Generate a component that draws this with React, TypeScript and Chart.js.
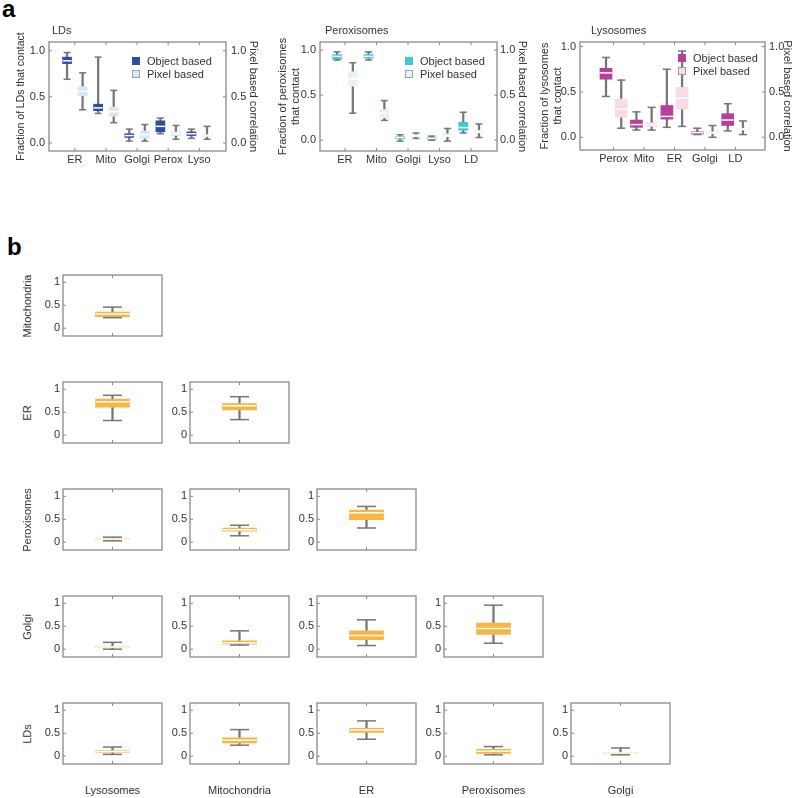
import React, { useEffect, useRef } from "react";
import { Chart, registerables } from "chart.js";

Chart.register(...registerables);

const FONT = '"Liberation Sans", Arial, Helvetica, sans-serif';
const TEXT = "#333333";
const WHISKER = "#777777";

// ---------- Panel a data: [min, q1, median, q3, max] ----------
const ldCategories = ["ER", "Mito", "Golgi", "Perox", "Lyso"];
const ldObject = [
  [0.69, 0.86, 0.89, 0.93, 0.98],
  [0.32, 0.35, 0.38, 0.42, 0.93],
  [0.02, 0.06, 0.08, 0.10, 0.15],
  [0.10, 0.12, 0.18, 0.24, 0.27],
  [0.05, 0.08, 0.10, 0.12, 0.15],
];
const ldPixel = [
  [0.36, 0.51, 0.56, 0.61, 0.76],
  [0.22, 0.29, 0.34, 0.39, 0.57],
  [0.02, 0.05, 0.09, 0.13, 0.20],
  [0.04, 0.08, 0.10, 0.12, 0.19],
  [0.04, 0.07, 0.08, 0.09, 0.18],
];

const peroxCategories = ["ER", "Mito", "Golgi", "Lyso", "LD"];
const peroxObject = [
  [0.89, 0.90, 0.93, 0.95, 0.98],
  [0.89, 0.91, 0.93, 0.95, 0.98],
  [-0.01, 0.015, 0.03, 0.04, 0.06],
  [0.0, 0.01, 0.02, 0.03, 0.045],
  [0.08, 0.11, 0.14, 0.20, 0.31],
];
const peroxPixel = [
  [0.30, 0.60, 0.68, 0.76, 0.86],
  [0.22, 0.25, 0.30, 0.34, 0.44],
  [0.02, 0.04, 0.05, 0.06, 0.08],
  [-0.01, 0.04, 0.05, 0.07, 0.13],
  [0.03, 0.08, 0.09, 0.11, 0.18],
];

const lysoCategories = ["Perox", "Mito", "ER", "Golgi", "LD"];
const lysoObject = [
  [0.45, 0.64, 0.71, 0.76, 0.88],
  [0.08, 0.11, 0.14, 0.19, 0.28],
  [0.11, 0.20, 0.23, 0.35, 0.75],
  [0.03, 0.035, 0.05, 0.06, 0.10],
  [0.07, 0.13, 0.19, 0.26, 0.37],
];
const lysoPixel = [
  [0.10, 0.22, 0.31, 0.42, 0.63],
  [0.08, 0.12, 0.14, 0.16, 0.33],
  [0.12, 0.31, 0.43, 0.55, 0.95],
  [0.0, 0.04, 0.05, 0.06, 0.13],
  [0.03, 0.08, 0.09, 0.10, 0.18],
];

const panelATicks = [0, 0.5, 1];

// ---------- Panel b data ----------
const rowLabels = ["Mitochondria", "ER", "Peroxisomes", "Golgi", "LDs"];
const colLabels = ["Lysosomes", "Mitochondria", "ER", "Peroxisomes", "Golgi"];
const rowMitochondria = [[0.23, 0.25, 0.31, 0.35, 0.46]];
const rowER = [
  [0.32, 0.61, 0.73, 0.79, 0.87],
  [0.34, 0.55, 0.64, 0.69, 0.84],
];
const rowPeroxisomes = [
  [0.03, 0.06, 0.07, 0.08, 0.11],
  [0.14, 0.24, 0.27, 0.31, 0.37],
  [0.31, 0.49, 0.64, 0.70, 0.78],
];
const rowGolgi = [
  [0.0, 0.04, 0.05, 0.06, 0.15],
  [0.09, 0.11, 0.14, 0.18, 0.40],
  [0.08, 0.21, 0.30, 0.40, 0.64],
  [0.13, 0.32, 0.45, 0.57, 0.96],
];
const rowLDs = [
  [0.04, 0.08, 0.10, 0.12, 0.20],
  [0.24, 0.29, 0.35, 0.40, 0.58],
  [0.37, 0.52, 0.57, 0.61, 0.77],
  [0.03, 0.06, 0.11, 0.15, 0.21],
  [0.03, 0.06, 0.07, 0.08, 0.18],
];
const panelBRows = [rowMitochondria, rowER, rowPeroxisomes, rowGolgi, rowLDs];
const panelBTicks = [0, 0.5, 1];

// ---------- helpers ----------
const noScalePadding = (s: any) => {
  s.paddingTop = 0;
  s.paddingBottom = 0;
  s.paddingLeft = 0;
  s.paddingRight = 0;
};

const framePlugin = {
  id: "frame",
  beforeDatasetsDraw(chart: any, _args: any, opts: any) {
    const { ctx, chartArea: a } = chart;
    ctx.save();
    ctx.strokeStyle = opts.color || "#8a8a8a";
    ctx.lineWidth = opts.width || 1.3;
    ctx.strokeRect(a.left, a.top, a.right - a.left, a.bottom - a.top);
    ctx.lineWidth = 1;
    const y = chart.scales.y;
    (opts.yTicks || []).forEach((v: number) => {
      const py = y.getPixelForValue(v);
      ctx.beginPath();
      ctx.moveTo(a.left, py);
      ctx.lineTo(a.left + 3, py);
      if (opts.rightTicks) {
        ctx.moveTo(a.right, py);
        ctx.lineTo(a.right - 3, py);
      }
      ctx.stroke();
    });
    const x = chart.scales.x;
    (opts.xTicks || []).forEach((v: number) => {
      const px = x.getPixelForValue(v);
      ctx.beginPath();
      ctx.moveTo(px, a.bottom);
      ctx.lineTo(px, a.bottom - 3);
      ctx.moveTo(px, a.top);
      ctx.lineTo(px, a.top + 3);
      ctx.stroke();
    });
    ctx.restore();
  },
};

function boxDatasets(
  stats: number[][],
  positions: number[],
  color: string,
  boxW: number,
  capW: number,
  yAxisID: string
) {
  return [
    {
      type: "scatter",
      data: stats.flatMap((s, i) => [
        { x: positions[i], y: s[0] },
        { x: positions[i], y: s[4] },
      ]),
      pointStyle: "line",
      pointRadius: capW / 2,
      borderColor: WHISKER,
      backgroundColor: WHISKER,
      borderWidth: 1.5,
      yAxisID,
      order: 1,
    },
    {
      type: "scatter",
      data: stats.map((s, i) => ({ x: positions[i], y: s[2] })),
      pointStyle: "line",
      pointRadius: boxW / 2,
      borderColor: "#ffffff",
      backgroundColor: "#ffffff",
      borderWidth: 1.5,
      yAxisID,
      order: 2,
    },
    {
      type: "bar",
      data: stats.map((s, i) => ({ x: positions[i], y: [s[1], s[3]] })),
      backgroundColor: color,
      barThickness: boxW,
      grouped: false,
      yAxisID,
      order: 3,
    },
    {
      type: "bar",
      data: stats.map((s, i) => ({ x: positions[i], y: [s[0], s[4]] })),
      backgroundColor: WHISKER,
      barThickness: 1.6,
      grouped: false,
      yAxisID,
      order: 4,
    },
  ];
}

function ChartCanvas({
  make,
  left,
  top,
  width,
  height,
}: {
  make: () => any;
  left: number;
  top: number;
  width: number;
  height: number;
}) {
  const ref = useRef<HTMLCanvasElement>(null);
  useEffect(() => {
    const chart = new Chart(ref.current as HTMLCanvasElement, make());
    return () => chart.destroy();
  }, []);
  return (
    <canvas
      ref={ref}
      width={width}
      height={height}
      style={{ position: "absolute", left, top, width, height }}
    />
  );
}

type PanelA = {
  categories: string[];
  object: number[][];
  pixel: number[][];
  objColor: string;
  pixColor: string;
  leftTitle: string | string[];
  leftTitleSize: number;
  leftTitlePad: number;
  rightTitlePad: number;
  leftW: number;
  rightW: number;
  xAxisH: number;
  padTop: number;
  xMin: number;
  xMax: number;
  yMin: number;
  yMax: number;
  boxW: number;
  capW: number;
  rightTickPad: number;
};

function panelAConfig(p: PanelA) {
  const objPos = p.categories.map((_, i) => 2 * i);
  const pixPos = p.categories.map((_, i) => 2 * i + 1);
  const tickFont = { family: FONT, size: 11 };
  const yCommon = {
    type: "linear",
    min: p.yMin,
    max: p.yMax,
    grid: { display: false, drawTicks: false },
    border: { display: false },
    afterBuildTicks: (s: any) => {
      s.ticks = panelATicks.map((v) => ({ value: v }));
    },
  };
  return {
    type: "bar",
    data: {
      datasets: [
        ...boxDatasets(p.object, objPos, p.objColor, p.boxW, p.capW, "y"),
        ...boxDatasets(p.pixel, pixPos, p.pixColor, p.boxW, p.capW, "y2"),
      ],
    },
    options: {
      responsive: false,
      animation: false,
      events: [],
      layout: { autoPadding: false, padding: { top: p.padTop, left: 0, right: 0, bottom: 0 } },
      plugins: {
        legend: { display: false },
        tooltip: { enabled: false },
        frame: {
          color: "#8a8a8a",
          width: 1.3,
          yTicks: panelATicks,
          rightTicks: true,
          xTicks: p.categories.map((_, i) => 2 * i + 0.5),
        },
      },
      scales: {
        x: {
          type: "linear",
          min: p.xMin,
          max: p.xMax,
          offset: false,
          grid: { display: false, drawTicks: false },
          border: { display: false },
          afterBuildTicks: (s: any) => {
            s.ticks = p.categories.map((_, i) => ({ value: 2 * i + 0.5 }));
          },
          ticks: {
            autoSkip: false,
            maxRotation: 0,
            padding: 2,
            font: tickFont,
            color: TEXT,
            callback: (_v: any, i: number) => p.categories[i],
          },
          afterFit: (s: any) => {
            s.height = p.xAxisH;
            noScalePadding(s);
          },
        },
        y: {
          ...yCommon,
          position: "left",
          ticks: {
            autoSkip: false,
            padding: 4,
            font: tickFont,
            color: TEXT,
            callback: (v: any) => Number(v).toFixed(1),
          },
          title: {
            display: true,
            text: p.leftTitle,
            font: { family: FONT, size: p.leftTitleSize },
            color: TEXT,
            padding: { top: p.leftTitlePad, bottom: 0 },
          },
          afterFit: (s: any) => {
            s.width = p.leftW;
            noScalePadding(s);
          },
        },
        y2: {
          ...yCommon,
          position: "right",
          ticks: {
            autoSkip: false,
            padding: p.rightTickPad,
            font: tickFont,
            color: TEXT,
            callback: (v: any) => Number(v).toFixed(1),
          },
          title: {
            display: true,
            text: "Pixel based correlation",
            font: { family: FONT, size: 11 },
            color: TEXT,
            padding: { top: p.rightTitlePad, bottom: 0 },
          },
          afterFit: (s: any) => {
            s.width = p.rightW;
            noScalePadding(s);
          },
        },
      },
    },
    plugins: [framePlugin],
  };
}

function panelBConfig(stats: number[]) {
  return {
    type: "bar",
    data: {
      datasets: boxDatasets([stats], [0], "#f9b541", 34, 19, "y"),
    },
    options: {
      responsive: false,
      animation: false,
      events: [],
      layout: { autoPadding: false, padding: { top: 8, right: 4, bottom: 8, left: 0 } },
      plugins: {
        legend: { display: false },
        tooltip: { enabled: false },
        frame: { color: "#8a8a8a", width: 1.3, yTicks: panelBTicks, xTicks: [0] },
      },
      scales: {
        x: { type: "linear", min: -1, max: 1, offset: false, display: false },
        y: {
          type: "linear",
          min: -0.17,
          max: 1.16,
          grid: { display: false, drawTicks: false },
          border: { display: false },
          afterBuildTicks: (s: any) => {
            s.ticks = panelBTicks.map((v) => ({ value: v }));
          },
          ticks: {
            autoSkip: false,
            padding: 3,
            font: { family: FONT, size: 11 },
            color: TEXT,
            callback: (v: any) => String(v),
          },
          afterFit: (s: any) => {
            s.width = 30;
            noScalePadding(s);
          },
        },
      },
    },
    plugins: [framePlugin],
  };
}

function Legend({
  left,
  top,
  objColor,
  pixColor,
  pixBorder,
}: {
  left: number;
  top: number;
  objColor: string;
  pixColor: string;
  pixBorder: string;
}) {
  const row = { display: "flex", alignItems: "center", height: 13.5, whiteSpace: "nowrap" as const };
  const sq = (bg: string, bd: string) => ({
    width: 8,
    height: 8,
    background: bg,
    border: `1px solid ${bd}`,
    boxSizing: "border-box" as const,
    marginRight: 7,
    flex: "none",
  });
  return (
    <div style={{ position: "absolute", left, top, font: `11px ${FONT}`, color: TEXT }}>
      <div style={row}>
        <span style={sq(objColor, objColor)} />
        Object based
      </div>
      <div style={row}>
        <span style={sq(pixColor, pixBorder)} />
        Pixel based
      </div>
    </div>
  );
}

const abs = (left: number, top: number, extra: any = {}) => ({
  position: "absolute" as const,
  left,
  top,
  font: `11px ${FONT}`,
  color: TEXT,
  whiteSpace: "nowrap" as const,
  ...extra,
});

export default function App() {
  const rowTops = [275, 382, 489, 596, 703];
  const colLefts = [63, 190, 317, 444, 571];

  const ldPanel: PanelA = {
    categories: ldCategories,
    object: ldObject,
    pixel: ldPixel,
    objColor: "#2c4fa3",
    pixColor: "#d6e7f7",
    leftTitle: "Fraction of LDs that contact",
    leftTitleSize: 10.5,
    leftTitlePad: 15,
    rightTitlePad: 2.5,
    leftW: 49,
    rightW: 36,
    xAxisH: 19,
    padTop: 22,
    xMin: -1.16,
    xMax: 10.22,
    yMin: -0.087,
    yMax: 1.094,
    boxW: 9,
    capW: 7,
    rightTickPad: 5,
  };
  const peroxPanel: PanelA = {
    categories: peroxCategories,
    object: peroxObject,
    pixel: peroxPixel,
    objColor: "#3ec7d6",
    pixColor: "#e3f4f6",
    leftTitle: ["Fraction of peroxisomes", "that contact"],
    leftTitleSize: 11,
    leftTitlePad: 11.5,
    rightTitlePad: 4.5,
    leftW: 55,
    rightW: 36,
    xAxisH: 19,
    padTop: 22,
    xMin: -1.08,
    xMax: 10.14,
    yMin: -0.12,
    yMax: 1.09,
    boxW: 9,
    capW: 7,
    rightTickPad: 3,
  };
  const lysoPanel: PanelA = {
    categories: lysoCategories,
    object: lysoObject,
    pixel: lysoPixel,
    objColor: "#b5409c",
    pixColor: "#f8dbe7",
    leftTitle: ["Fraction of lysosomes", "that contact"],
    leftTitleSize: 11,
    leftTitlePad: 10.5,
    rightTitlePad: 6.5,
    leftW: 52,
    rightW: 35,
    xAxisH: 20,
    padTop: 22,
    xMin: -1.71,
    xMax: 10.45,
    yMin: -0.14,
    yMax: 1.05,
    boxW: 12,
    capW: 8,
    rightTickPad: 4,
  };

  return (
    <div
      style={{
        position: "fixed",
        left: 0,
        top: 0,
        width: 800,
        height: 798,
        background: "#ffffff",
        overflow: "hidden",
      }}
    >
      {/* Panel a */}
      <div style={abs(2, -3, { font: `bold 24px ${FONT}`, color: "#000", lineHeight: "24px" })}>a</div>

      <ChartCanvas make={() => panelAConfig(ldPanel)} left={0} top={20} width={262} height={150} />
      <ChartCanvas make={() => panelAConfig(peroxPanel)} left={265} top={20} width={268} height={150} />
      <ChartCanvas make={() => panelAConfig(lysoPanel)} left={528} top={20} width={272} height={150} />

      <div style={abs(52, 24)}>LDs</div>
      <div style={abs(325, 24)}>Peroxisomes</div>
      <div style={abs(591, 24)}>Lysosomes</div>

      <Legend left={132} top={54} objColor="#2c4fa3" pixColor="#d6e7f7" pixBorder="#9aa4b0" />
      <Legend left={405} top={54} objColor="#3ec7d6" pixColor="#e3f4f6" pixBorder="#9aa4a8" />
      <Legend left={678} top={51} objColor="#b5409c" pixColor="#f8dbe7" pixBorder="#a89aa2" />

      {/* Panel b */}
      <div style={abs(7, 235, { font: `bold 24px ${FONT}`, color: "#000", lineHeight: "24px" })}>b</div>

      {panelBRows.map((row, r) =>
        row.map((stats, c) => (
          <ChartCanvas
            key={`b-${r}-${c}`}
            make={() => panelBConfig(stats)}
            left={colLefts[c] - 30}
            top={rowTops[r] - 8}
            width={133}
            height={77}
          />
        ))
      )}

      {rowLabels.map((label, r) => (
        <div
          key={`rl-${r}`}
          style={abs(27, rowTops[r] + 30.5, {
            transform: "translate(-50%, -50%) rotate(-90deg)",
          })}
        >
          {label}
        </div>
      ))}
      {colLabels.map((label, c) => (
        <div
          key={`cl-${c}`}
          style={abs(colLefts[c] + 49.5, 790, { transform: "translate(-50%, -50%)" })}
        >
          {label}
        </div>
      ))}
    </div>
  );
}
